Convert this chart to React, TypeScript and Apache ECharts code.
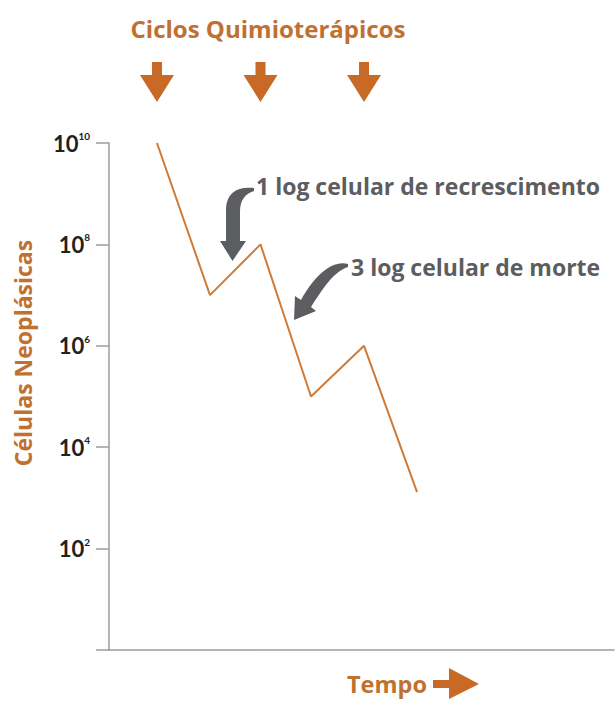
import React, { useEffect, useRef } from "react";
import * as echarts from "echarts";

// ---- data ----
const timePoints = [0.95, 2.0, 3.0, 4.0, 5.05, 6.1];
const cellCounts = [1e10, 1e7, 1e8, 1e5, 1e6, 1.3e3];
const cycleTimes = [0.95, 3.0, 5.05];
const yMin = 1;
const yMax = 1e10;
const titleText = "Ciclos Quimioterápicos";
const yAxisTitle = "Células Neoplásicas";
const xAxisTitle = "Tempo";
const regrowthText = "1 log celular de recrescimento";
const killText = "3 log celular de morte";

const ORANGE = "#c86a26";
const ORANGE_TEXT = "#c0702f";
const LINE = "#cf7b38";
const GREY = "#5c5d60";
const AXIS = "#9c9c9c";
const FONT = "'Open Sans'";

const ARROW1 =
  "M 254 188 C 238 186 227 192 226 208 L 226 241 L 220 241 L 232.5 261 L 246 241 L 240 241 L 240 212 C 240 200 245 194 254 191 Z";
const ARROW2 =
  "M 348 264 C 332 260 315 275 301 300 L 295 296 L 294 320 L 316 311 L 311 307 C 322 290 333 272 348 267 Z";

let registered = false;
function registerShapes() {
  if (registered) return;
  registered = true;
  echarts.graphic.registerShape("curvedArrow1", echarts.graphic.extendPath(ARROW1, {}) as any);
  echarts.graphic.registerShape("curvedArrow2", echarts.graphic.extendPath(ARROW2, {}) as any);
}

export default function App() {
  const ref = useRef<HTMLDivElement>(null);
  useEffect(() => {
    if (!ref.current) return;
    registerShapes();
    const chart = echarts.init(ref.current, null, { renderer: "svg" });
    const option: any = {
      animation: false,
      backgroundColor: "#ffffff",
      grid: { left: 109, right: 1, top: 143, bottom: 52, outerBoundsMode: "none" },
      xAxis: {
        type: "value",
        min: 0,
        max: 10,
        axisLine: { show: true, lineStyle: { color: AXIS, width: 1.5 } },
        axisTick: { show: false },
        axisLabel: { show: false },
        splitLine: { show: false },
      },
      yAxis: {
        type: "log",
        logBase: 10,
        min: yMin,
        max: yMax,
        interval: 2,
        axisLine: { show: true, lineStyle: { color: AXIS, width: 1.5 } },
        axisTick: { show: true, length: 13, lineStyle: { color: AXIS, width: 1.5 } },
        splitLine: { show: false },
        axisLabel: {
          margin: 19,
          formatter: (v: number) => {
            const e = Math.round(Math.log10(v));
            if (e === 0) return "";
            return `{b|10}{s|${e}}`;
          },
          rich: {
            b: { fontFamily: "Lato", fontWeight: "bold", fontSize: 22, color: "#222", lineHeight: 24 },
            s: { fontFamily: "Lato", fontWeight: "bold", fontSize: 10, color: "#222", verticalAlign: "top", lineHeight: 10 },
          },
        },
      },
      series: [
        {
          type: "line",
          data: timePoints.map((t, i) => [t, cellCounts[i]]),
          symbol: "none",
          lineStyle: { color: LINE, width: 2 },
        },
      ],
    };
    chart.setOption(option);

    const arrows = cycleTimes.map((t) => {
      const cx = chart.convertToPixel({ xAxisIndex: 0 }, t) as number;
      return {
        type: "polygon",
        shape: {
          points: [
            [cx - 5, 62],
            [cx + 5, 62],
            [cx + 5, 75],
            [cx + 17, 75],
            [cx, 102],
            [cx - 17, 75],
            [cx - 5, 75],
          ],
        },
        style: { fill: ORANGE },
      };
    });

    const txt = (x: number, y: number, text: string, size: number, fill: string, align = "left", rotation = 0) => ({
      type: "text",
      x,
      y,
      rotation,
      style: {
        text,
        fontFamily: FONT,
        fontWeight: "bold",
        fontSize: size,
        fill,
        align,
        verticalAlign: "middle",
      },
    });

    chart.setOption({
      graphic: [
        txt(268, 28, titleText, 24, ORANGE_TEXT, "center"),
        ...arrows,
        txt(23, 353, yAxisTitle, 23, ORANGE_TEXT, "center", Math.PI / 2),
        txt(387, 684, xAxisTitle, 23.5, ORANGE_TEXT, "center"),
        {
          type: "polygon",
          shape: {
            points: [
              [433, 680],
              [449, 680],
              [449, 668],
              [479, 684],
              [449, 699],
              [449, 688],
              [433, 688],
            ],
          },
          style: { fill: ORANGE },
        },
        txt(256, 186, regrowthText, 23, GREY),
        txt(351, 267, killText, 23, GREY),
        { type: "curvedArrow1", x: 0, y: 0, style: { fill: GREY } },
        { type: "curvedArrow2", x: 0, y: 0, style: { fill: GREY } },
      ],
    });

    return () => chart.dispose();
  }, []);

  return <div ref={ref} style={{ width: 615, height: 702, position: "absolute", left: 0, top: 0 }} />;
}
